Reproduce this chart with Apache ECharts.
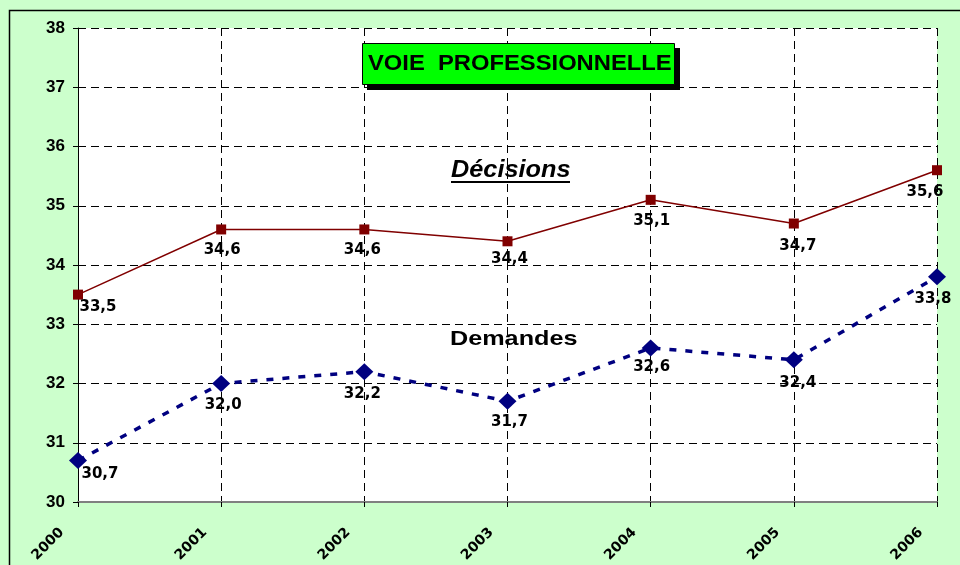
<!DOCTYPE html>
<html>
	<head>
		<meta charset="UTF-8">
		<script type="text/javascript" src="https://cdn.jsdelivr.net/npm/echarts@6/dist/echarts.min.js"></script>
		<title>Voie professionnelle</title>
		<style>
			html, body { margin: 0; padding: 0; background: #ccffcc; }
			#graph { width: 960px; height: 565px; }
		</style>
	</head>
	<body>
		<div id="graph"></div>
	</body>
	<script>
		var years = ['2000', '2001', '2002', '2003', '2004', '2005', '2006'];
		var decisions = [33.5, 34.6, 34.6, 34.4, 35.1, 34.7, 35.6];
		var demandes = [30.7, 32.0, 32.2, 31.7, 32.6, 32.4, 33.8];

		// label placement relative to each point (centre of the text), as in the original
		var decLabelPos = [[20, 12], [1, 21], [-2, 21], [2, 18], [1, 21], [4, 23], [-12, 22]];
		var demLabelPos = [[22, 14], [2, 22], [-2, 22], [2, 21], [1, 19], [4, 23], [-4, 22]];

		function fmt(v){
			return v.toFixed(1).replace('.', ',');
		}
		function withLabels(values, pos){
			return values.map(function(v, i){
				return { value: v, label: { offset: pos[i] } };
			});
		}

		var labelFont = {
			show: true,
			position: 'inside',
			fontFamily: 'DejaVu Sans',
			fontWeight: 'bold',
			fontSize: 15,
			color: '#000',
			formatter: function(p){ return fmt(p.value); }
		};

		var myChart = echarts.init(document.getElementById('graph'));
		var option = {
			backgroundColor: '#ccffcc',
			animation: false,
			grid: {
				left: 78, right: 23, top: 28, bottom: 63,
				show: true,
				backgroundColor: '#ffffff',
				borderWidth: 0
			},
			xAxis: {
				type: 'category',
				data: years,
				boundaryGap: false,
				axisLine: { lineStyle: { color: '#808080', width: 2 } },
				axisTick: { show: true, alignWithLabel: true, length: 5, lineStyle: { color: '#000' } },
				splitLine: { show: true, lineStyle: { color: '#000', type: [8, 5], width: 1 } },
				axisLabel: {
					rotate: 45,
					margin: 12,
					padding: [0, 23, 0, 0],
					fontFamily: 'DejaVu Sans',
					fontWeight: 'bold',
					fontSize: 14,
					color: '#000'
				}
			},
			yAxis: {
				type: 'value',
				min: 30, max: 38, interval: 1,
				axisLine: { show: true, lineStyle: { color: '#000', width: 1 } },
				axisTick: { show: true, length: 5, lineStyle: { color: '#000' } },
				splitLine: { show: true, lineStyle: { color: '#000', type: [8, 5], width: 1 } },
				axisLabel: {
					margin: 13,
					fontFamily: 'Liberation Sans',
					fontWeight: 'bold',
					fontSize: 17,
					color: '#000'
				}
			},
			graphic: [
				{
					type: 'rect', z: -1, silent: true,
					shape: { x: 9.5, y: 10.5, width: 960, height: 560 },
					style: { fill: 'none', stroke: '#000', lineWidth: 1.5 }
				},
				{
					type: 'rect', z: 100,
					shape: { x: 367, y: 48, width: 313, height: 42 },
					style: { fill: '#000' }
				},
				{
					type: 'rect', z: 101,
					shape: { x: 362.5, y: 43.5, width: 312, height: 41 },
					style: { fill: '#00ff00', stroke: '#000', lineWidth: 1 }
				},
				{
					type: 'text', z: 102, x: 368, y: 53, scaleX: 1.08,
					style: {
						text: 'VOIE  PROFESSIONNELLE',
						fontFamily: 'Liberation Sans', fontWeight: 'bold', fontSize: 22,
						fill: '#000'
					}
				},
				{
					type: 'text', z: 102, x: 451, y: 159, scaleX: 1.1,
					style: {
						text: 'Décisions',
						fontFamily: 'Liberation Sans', fontWeight: 'bold', fontStyle: 'italic', fontSize: 23,
						fill: '#000'
					}
				},
				{
					type: 'rect', z: 102,
					shape: { x: 451, y: 181, width: 119, height: 2 },
					style: { fill: '#000' }
				},
				{
					type: 'text', z: 102, x: 450, y: 329, scaleX: 1.2,
					style: {
						text: 'Demandes',
						fontFamily: 'Liberation Sans', fontWeight: 'bold', fontSize: 21,
						fill: '#000'
					}
				}
			],
			series: [
				{
					name: 'Décisions',
					type: 'line',
					data: withLabels(decisions, decLabelPos),
					symbol: 'rect',
					symbolSize: 10,
					itemStyle: { color: '#800000' },
					lineStyle: { color: '#800000', width: 1.5 },
					label: labelFont
				},
				{
					name: 'Demandes',
					type: 'line',
					data: withLabels(demandes, demLabelPos),
					symbol: 'diamond',
					symbolSize: [18, 17],
					itemStyle: { color: '#000080' },
					lineStyle: { color: '#000080', width: 3.5, type: [7, 9] },
					label: labelFont
				}
			]
		};
		myChart.setOption(option);
	</script>
</html>
